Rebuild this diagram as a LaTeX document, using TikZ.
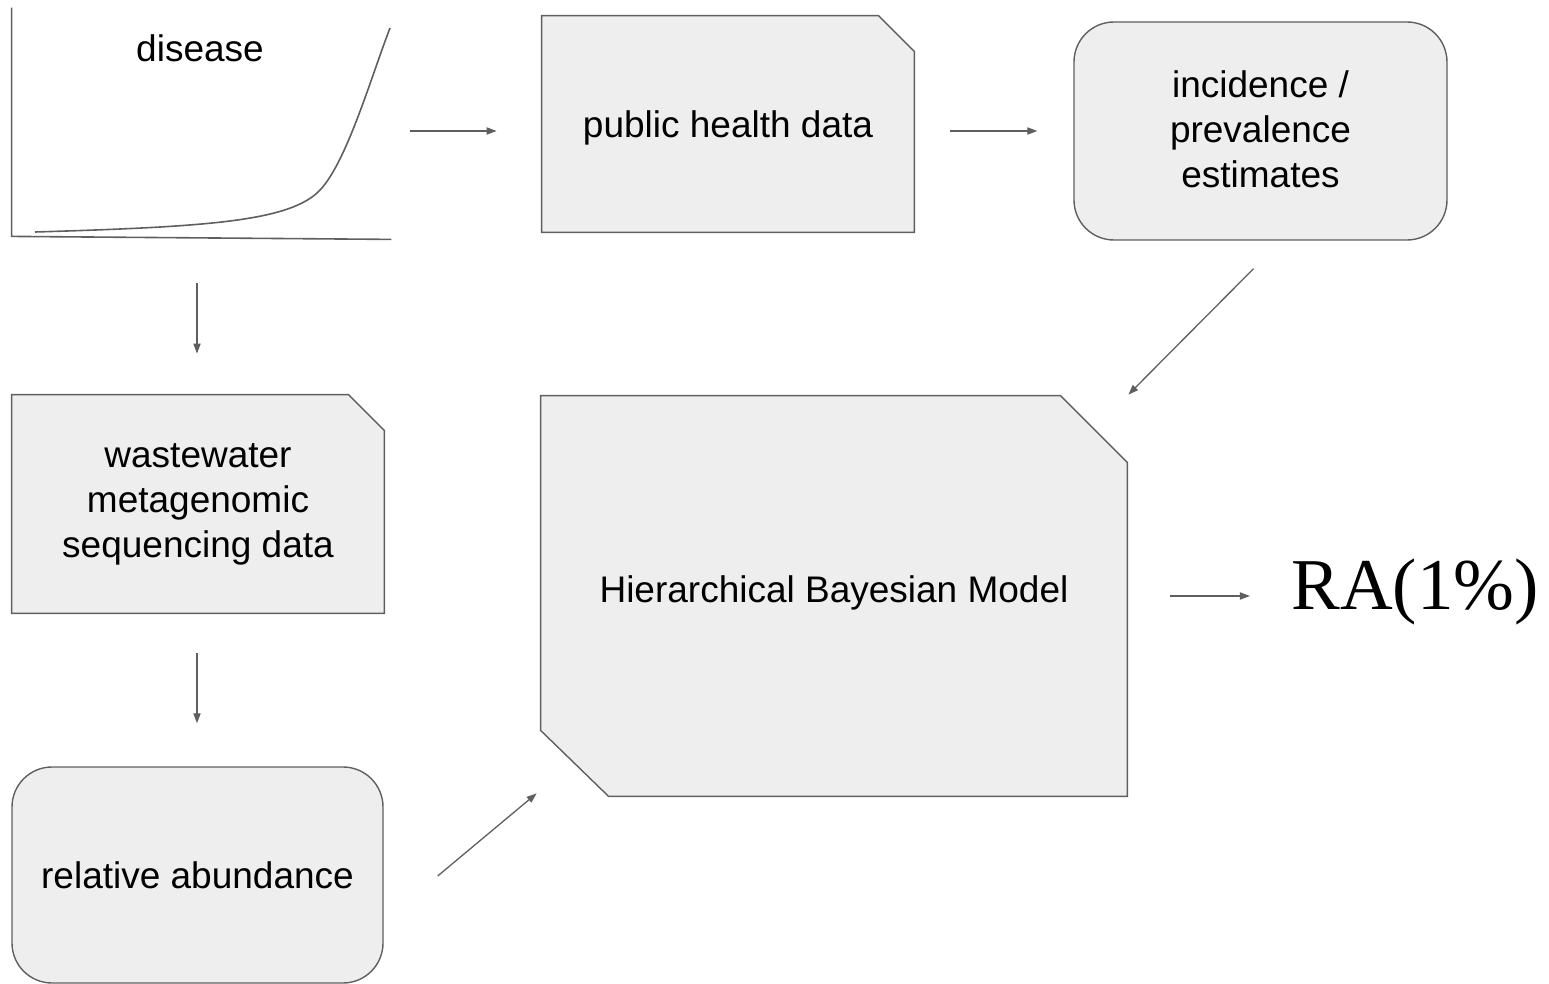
\documentclass[tikz,border=0pt]{standalone}
\usepackage{fontspec}
\setmainfont{Liberation Sans}
\newfontfamily\serifRA{Liberation Serif}
\usetikzlibrary{arrows.meta,backgrounds}
\definecolor{boxfill}{HTML}{EEEEEE}
\definecolor{edgegray}{HTML}{5F5F5F}
\begin{document}
\begin{tikzpicture}[x=0.5pt,y=-0.5pt,
  every node/.style={font=\fontsize{18.5pt}{22.5pt}\selectfont, text=black},
  area/.style={inner sep=0pt, align=center},
  outline/.style={draw=edgegray, fill=boxfill, line width=0.7pt, line join=miter},
  roundbox/.style={area, outline, rounded corners=20pt},
  axisline/.style={draw=edgegray, line width=0.8pt},
  arr/.style={draw=edgegray, line width=0.65pt, -{Triangle[length=5pt,width=3.6pt]}}]
\useasboundingbox (0,0) rectangle (1549,984);

% sketch of the disease curve
\node[area, minimum width=189.5pt, minimum height=114pt] (disease) at (201.5,122) {};
\draw[axisline] (disease.north west) -- (disease.south west) -- ([yshift=-1.5pt]disease.south east);
\draw[axisline] (35,232) .. controls (200,227) and (285,222) .. (317,193)
                         .. controls (345,168) and (370,80) .. (390,28);
\node[area] (disease label) at (200,48) {disease};

% boxes
\node[area, text depth=0pt, minimum width=186pt, minimum height=108pt] (pub) at (728,124) {public health data};
\node[roundbox, minimum width=186.5pt, minimum height=109pt] (inc) at (1260.5,131)
  {\raisebox{-1.5pt}[\height][\depth]{\begin{tabular}{@{}c@{}}incidence /\\prevalence\\estimates\end{tabular}}};
\node[area, minimum width=186pt, minimum height=109pt] (ww) at (198,504)
  {wastewater\\metagenomic\\sequencing data};
\node[roundbox, minimum width=185.5pt, minimum height=108pt] (rel) at (197.5,875) {relative abundance};
\node[area, minimum width=293pt, minimum height=200pt] (hbm) at (834,596)
  {\raisebox{1.5pt}[\height][\depth]{Hierarchical Bayesian Model}};
\node[inner sep=0pt, font=\serifRA\fontsize{36.5pt}{40pt}\selectfont] (ra) at (1415,592) {RA(1\%)};

% snipped box outlines behind the text
\begin{scope}[on background layer]
\draw[outline] (pub.north west) -- ([xshift=-18pt]pub.north east) -- ([yshift=-18pt]pub.north east)
  -- (pub.south east) -- (pub.south west) -- cycle;
\draw[outline] (ww.north west) -- ([xshift=-18pt]ww.north east) -- ([yshift=-18pt]ww.north east)
  -- (ww.south east) -- (ww.south west) -- cycle;
\draw[outline] (hbm.north west) -- ([xshift=-33.5pt]hbm.north east) -- ([yshift=-33.5pt]hbm.north east)
  -- (hbm.south east) -- ([xshift=34pt]hbm.south west) -- ([yshift=33pt]hbm.south west) -- cycle;
\end{scope}

% connectors
\draw[arr] ([shift={(19,9)}]disease.east) -- ([shift={(-45,7)}]pub.west);
\draw[arr] ([shift={(36,7)}]pub.east) -- ([shift={(-36,0)}]inc.west);
\draw[arr] ([shift={(-7,28)}]inc.south) -- ([shift={(1,-1)}]hbm.north east);
\draw[arr] ([shift={(-4.5,47)}]disease.south) -- ([shift={(-1,-41)}]ww.north);
\draw[arr] ([shift={(-1,40)}]ww.south) -- ([shift={(-0.5,-43)}]rel.north);
\draw[arr] ([shift={(54,1)}]rel.east) -- ([shift={(-4,-3)}]hbm.south west);
\draw[arr] ([shift={(43,0)}]hbm.east) -- ([shift={(-41,4)}]ra.west);
\end{tikzpicture}
\end{document}
